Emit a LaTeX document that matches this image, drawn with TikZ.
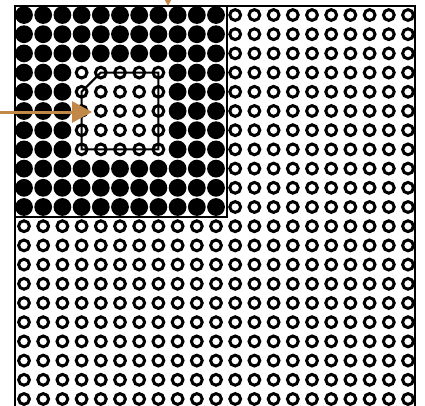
\documentclass[tikz,border=0pt]{standalone}
\usepackage{xcolor}
\usepackage{tikz}
\usetikzlibrary{arrows.meta}

\definecolor{arrowbrown}{RGB}{194,136,72}

\begin{document}
\begin{tikzpicture}[x=1pt, y=-1pt,
  dot/.style={fill=black},
  ring/.style={draw=black, line width=3pt},
  frame/.style={draw=black, line width=2pt},
  arr/.style={-{Triangle[length=20pt, width=21pt]}, draw=arrowbrown, fill=arrowbrown, line width=3pt}
]
\clip (0,0) rectangle (425,405);
% dot grid, 21 x 21
\foreach \i in {0,...,20}{
  \foreach \j in {0,...,20}{
    \pgfmathtruncatemacro\isdark{and(and(\i<11,\j<11),not(and(and(\i>2,\i<8),and(\j>2,\j<8))))}
    \ifnum\isdark=1
      \fill[dot] (24+19.2*\i, 15+19.2*\j) circle (8.9);
    \else
      \draw[ring] (24+19.2*\i, 15+19.2*\j) circle (5.4);
    \fi
  }
}
\draw[frame] (15,6) rectangle (415,420);
\draw[frame] (15,6) rectangle (227,217);
\draw[frame] (81.6,91.8) -- (100.8,72.6) -- (158.4,72.6) -- (158.4,149.4)
  -- (81.6,149.4) -- cycle;
% arrows
\coordinate (leftin) at (-5,112);
\coordinate (lefttip) at (92,112);
\coordinate (topin) at (168,-40);
\coordinate (toptip) at (168,6);
\draw[arr] (leftin) -- (lefttip);
\draw[arr] (topin) -- (toptip);
\end{tikzpicture}
\end{document}
